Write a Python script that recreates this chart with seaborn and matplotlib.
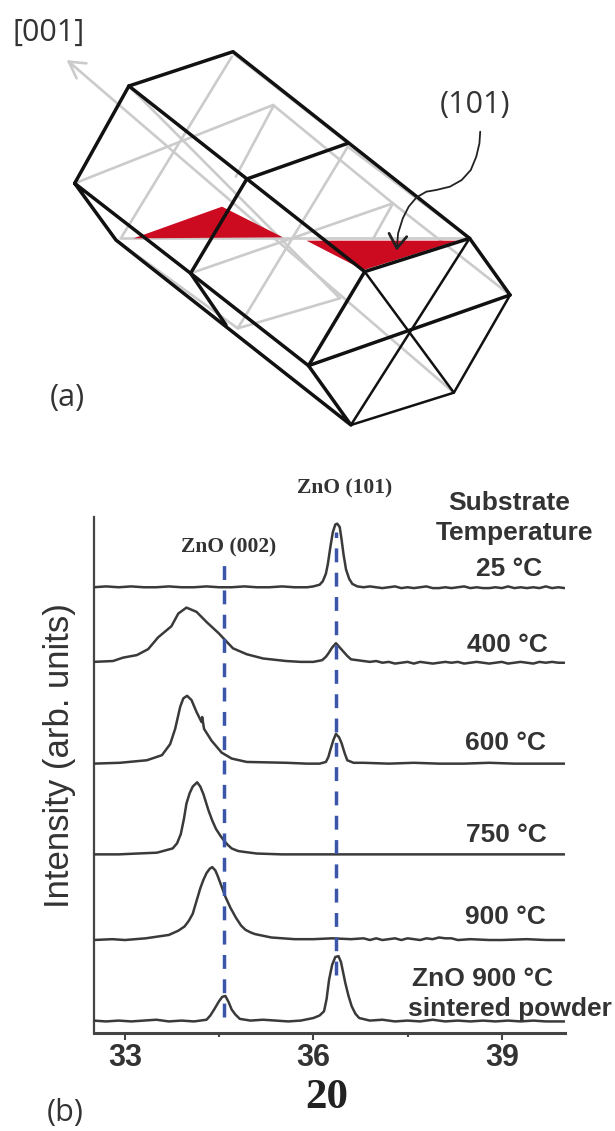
import pandas as pd
import seaborn as sns
import matplotlib.pyplot as plt

sns.set_style('white')
plt.rcParams['font.family'] = ['Liberation Sans', 'DejaVu Sans']

# XRD traces: two theta and height above each baseline
x_25 = [32.5, 32.7, 32.9, 33.1, 33.3, 33.5, 33.7, 33.9, 34.1, 34.3, 34.5, 34.7, 34.9, 35.1, 35.3, 35.5, 35.7, 35.9, 36.0, 36.1,
        36.15, 36.2, 36.23, 36.27, 36.31, 36.35, 36.38, 36.42, 36.45, 36.48, 36.52, 36.57, 36.62, 36.7, 36.8, 36.9,
        37.0, 37.1, 37.2, 37.3, 37.4, 37.5, 37.6, 37.7, 37.8, 37.9, 38.0, 38.1, 38.2, 38.3, 38.4, 38.5, 38.6, 38.7, 38.8,
        38.9, 39.0, 39.1, 39.2, 39.3, 39.4, 39.5, 39.6, 39.7, 39.8, 39.9, 40.0]
y_25 = [1, 2, 1, 2, 1, 1, 2, 1, 1, 2, 1, 1, 2, 1, 1, 2, 1, 1, 2, 4,
        8, 17, 28, 48, 66, 75, 76, 72, 57, 40, 22, 11, 5, 2, 1, 2,
        1, 0, 1, 2, 0, 1, 0, 1, 2, 0, 0, 1, 0, 1, 2, 0, 1, 0, 0,
        1, 0, 2, 0, 1, 0, 1, 0, 2, 0, 1, 0]
x_400 = [32.5, 32.81, 32.97, 33.19, 33.37, 33.53, 33.74, 33.85, 33.98, 34.14, 34.3, 34.49, 34.72, 34.94, 35.2, 35.57, 35.8,
         36.0, 36.14, 36.2, 36.24, 36.3, 36.36, 36.42, 36.48, 36.54, 36.6, 36.7, 36.8, 36.9,
         37.0, 37.1, 37.2, 37.3, 37.4, 37.5, 37.6, 37.7, 37.8, 37.9, 38.0, 38.1, 38.2, 38.3, 38.4, 38.5, 38.6, 38.7, 38.8,
         38.9, 39.0, 39.1, 39.2, 39.3, 39.4, 39.5, 39.6, 39.7, 39.8, 39.9, 40.0]
y_400 = [1, 2, 6, 9, 16, 30, 43, 58, 65, 60, 48, 35, 17, 10, 5, 2, 1,
         1, 3, 7, 11, 18, 23, 18, 13, 8, 4, 3, 2, 1,
         2, 0, 1, -1, 0, 1, -1, 1, 0, -1, 0, 1, 0, 1, -1, 0, 1, 0, -1,
         0, 1, -1, 0, 1, 0, -1, 1, 0, 1, 0, 0]
x_600 = [32.5, 32.92, 33.35, 33.59, 33.72, 33.8, 33.88, 33.93, 33.99, 34.06, 34.14, 34.22, 34.23, 34.26, 34.38, 34.54, 34.7,
         34.94, 35.57, 35.9, 36.1, 36.2, 36.24, 36.27, 36.32, 36.36, 36.41, 36.45, 36.5, 36.54, 36.64, 36.8, 37.2, 37.6,
         38.0, 38.4, 38.8, 39.2, 39.6, 40.0]
y_600 = [0, 1, 4, 10, 23, 41, 67, 77, 80, 75, 61, 49, 55, 41, 27, 13, 6,
         2, 1, 0, 0, 2, 8, 16, 28, 35, 31, 24, 12, 4, 1, 1, 0, 1,
         0, 0, 1, 0, 0, 0]
x_750 = [32.5, 32.9, 33.2, 33.51, 33.76, 33.83, 33.89, 33.94, 33.98, 34.03, 34.08, 34.15, 34.2, 34.25, 34.33, 34.39, 34.45,
         34.52, 34.58, 34.64, 34.7, 34.8, 34.89, 35.1, 35.5, 36.0, 36.5, 37.0, 37.5, 38.0, 38.5, 39.0, 39.5, 40.0]
y_750 = [0, 0, 1, 2, 7, 13, 24, 42, 60, 72, 80, 85, 80, 71, 52, 40, 30,
         22, 16, 11, 7, 4, 3, 1, 0, 0, 0, 0, 0, 0, 0, 0, 0, 0]
x_900 = [32.5, 32.8, 33.0, 33.33, 33.7, 33.85, 33.95, 34.02, 34.08, 34.14, 34.2, 34.25, 34.3, 34.35, 34.39, 34.44, 34.48,
         34.54, 34.6, 34.68, 34.77, 34.85, 34.92, 35.0, 35.07, 35.33, 35.7, 36.0, 36.3, 36.6, 36.8,
         36.9, 37.0, 37.1, 37.2, 37.3, 37.4, 37.5, 37.6, 37.7, 37.8, 37.9, 38.0, 38.1, 38.2, 38.3, 38.5, 38.8, 39.0, 39.4, 39.7, 40.0]
y_900 = [0, 1, 0, 2, 6, 11, 16, 23, 31, 46, 61, 71, 79, 84, 86, 82, 75,
         63, 51, 38, 26, 17, 12, 9, 7, 3, 1, 1, 2, 1, 2,
         0, 2, 0, 1, 2, 0, 2, 1, 0, 2, 1, 3, 2, 2, 0, 1, 0, 0, 1, 0, 0]
x_powder = [32.5, 32.7, 32.9, 33.1, 33.3, 33.5, 33.7, 33.9, 34.1, 34.3, 34.36, 34.42, 34.5, 34.55, 34.6, 34.65, 34.7, 34.76,
            34.83, 35.0, 35.2, 35.4, 35.6, 35.8, 36.0, 36.1, 36.17, 36.21, 36.25, 36.3, 36.35, 36.4, 36.44, 36.51, 36.56,
            36.61, 36.67, 36.73, 36.9, 37.1, 37.3, 37.5, 37.7, 37.9, 38.1, 38.3, 38.5, 38.7, 38.9, 39.1, 39.3, 39.5, 39.7, 40.0]
y_powder = [1, 0, 1, 0, 1, 2, 0, 1, 0, 2, 7, 14, 24, 29, 30, 23, 14, 8,
            3, 1, 2, 1, 0, 1, 4, 7, 12, 26, 49, 67, 76, 77, 70, 45, 30,
            18, 9, 4, 1, 2, 0, 1, 0, 2, 0, 1, 0, 1, 0, 1, 0, 1, 0, 0]

# baselines of the stacked traces
baselines = [525, 437, 318, 211, 110, 14]
samples = ['25', '400', '600', '750', '900', 'powder']
xs = [x_25, x_400, x_600, x_750, x_900, x_powder]
ys = [y_25, y_400, y_600, y_750, y_900, y_powder]

# crystal drawing in crop coordinates
black_thick = [[(328, 258), (593, 155), (1195, 715), (1298, 885)],
               [(328, 258), (190, 550), (485, 820), (785, 1097), (893, 1275), (295, 720), (190, 550)],
               [(328, 258), (928, 815), (785, 1097)],
               [(928, 815), (1195, 715)],
               [(628, 537), (885, 430)],
               [(628, 537), (485, 820), (575, 975)],
               [(785, 1097), (1298, 885)]]
black_thin = [[(1298, 885), (1155, 1178), (893, 1275)],
              [(928, 815), (1155, 1178)],
              [(1195, 715), (893, 1275)]]
gray_lines = [[(175, 185), (1155, 1178)],
              [(175, 185), (220, 190)], [(175, 185), (195, 235)],
              [(190, 550), (695, 315), (1000, 610), (1298, 885)],
              [(590, 170), (310, 710)],
              [(328, 258), (865, 895)],
              [(695, 320), (600, 530)],
              [(485, 820), (1000, 610), (950, 715)],
              [(885, 440), (605, 985), (865, 895)],
              [(295, 720), (605, 985)],
              [(885, 440), (1195, 715)],
              [(305, 715), (1195, 715)],
              [(593, 160), (885, 430)]]
red_faces = [[(340, 715), (565, 620), (720, 712)],
             [(780, 722), (1165, 722), (925, 810)]]
pointer = [(1222, 395), (1220, 430), (1212, 470), (1198, 510), (1175, 540), (1145, 560), (1110, 570), (1085, 575),
           (1060, 592), (1040, 620), (1025, 655), (1013, 700), (1010, 745)]
pointer_head = [(990, 700), (1010, 745), (1035, 710)]

fig = plt.figure(figsize=(6.15, 11.31), dpi=100)

# top panel, crystal
ax_top = fig.add_axes([0, 1 - 450 / 1131, 1, 450 / 1131])
ax_top.set_xlim(0, 1565)
ax_top.set_ylim(1350, 0)
ax_top.axis('off')
for seg in gray_lines:
    ax_top.plot([p[0] for p in seg], [p[1] for p in seg], color='#cbcbcb', lw=1.9, zorder=1)
for face in red_faces:
    ax_top.fill([p[0] for p in face], [p[1] for p in face], color='#cc0a20', lw=0, zorder=2)
for seg in black_thin:
    ax_top.plot([p[0] for p in seg], [p[1] for p in seg], color='#111111', lw=1.8, zorder=3)
for seg in black_thick:
    ax_top.plot([p[0] for p in seg], [p[1] for p in seg], color='#111111', lw=2.5, zorder=3)
ax_top.plot([p[0] for p in pointer], [p[1] for p in pointer], color='#222222', lw=1.3, zorder=4)
ax_top.plot([p[0] for p in pointer_head], [p[1] for p in pointer_head], color='#222222', lw=2, zorder=4)

# bottom panel, XRD traces
ax = fig.add_axes([93.5 / 615, 1 - 1033.3 / 1131, (564.6 - 93.5) / 615, (1033.3 - 517.3) / 1131])
rows = []
for name, base, x_vals, y_vals in zip(samples, baselines, xs, ys):
    rows.append(pd.DataFrame({'two_theta': x_vals, 'intensity': [base + v for v in y_vals], 'sample': name}))
df = pd.concat(rows)
sns.lineplot(data=df, x='two_theta', y='intensity', units='sample', estimator=None, sort=False,
             color='#3a3a3a', lw=1.8, ax=ax, zorder=3)
ax.plot([34.57, 34.57], [19, 559], color='#3b55a8', lw=2.5, ls=(0, (4, 3)), zorder=4)
ax.plot([36.36, 36.36], [69, 591], color='#3b55a8', lw=2.5, ls=(0, (4, 3)), zorder=4)
ax.set_xlim(32.5, 40)
ax.set_ylim(0, 608.5)
ax.set_xlabel('')
ax.set_ylabel('')
ax.set_yticks([])
ax.set_xticks([33, 36, 39])
ax.set_xticks([34.5, 37.5], minor=True)
ax.set_xticklabels([])
ax.tick_params(axis='x', which='major', direction='out', length=5, width=1.5, color='#444444', bottom=True)
ax.tick_params(axis='x', which='minor', direction='out', length=3, width=1.5, color='#444444', bottom=True)
ax.spines['top'].set_visible(False)
ax.spines['right'].set_visible(False)
ax.spines['left'].set_color('#444444')
ax.spines['left'].set_linewidth(1.6)
ax.spines['bottom'].set_color('#444444')
ax.spines['bottom'].set_linewidth(2.2)


def label(px, py, s, **kw):
    fig.text(px / 615, 1 - py / 1131, s, ha='center', va='center', **kw)


label(49, 33, '[001]', family='Open Sans', size=22, color='#333333')
label(475, 105, '(101)', family='Open Sans', size=22, color='#333333')
label(67, 398, '(a)', family='Open Sans', size=22, color='#333333')
label(65, 1113, '(b)', family='Open Sans', size=22, color='#333333')

label(60, 756, 'Intensity (arb. units)', size=25, rotation=90, color='#333333')
label(345, 488, 'ZnO (101)', family='Liberation Serif', weight='bold', size=15.5, color='#333333')
label(228.5, 547, 'ZnO (002)', family='Liberation Serif', weight='bold', size=15.5, color='#333333')

side = dict(weight='bold', size=19, color='#333333')
label(509, 503, 'Substrate', **side)
label(515, 533, 'Temperature', **side)
label(509, 569, '25 °C', **side)
label(507, 645, '400 °C', **side)
label(505, 743, '600 °C', **side)
label(506, 835, '750 °C', **side)
label(505, 917, '900 °C', **side)
label(482.5, 979, 'ZnO 900 °C', **side)
label(510, 1009, 'sintered powder', **side)

tick = dict(weight='bold', size=22, color='#333333')
label(125, 1058, '33', **tick)
label(313, 1058, '36', **tick)
label(502, 1058, '39', **tick)
label(327, 1098, '20', family='Liberation Serif', weight='bold', size=31, color='#222222')

fig.savefig('out.png', dpi=100)
